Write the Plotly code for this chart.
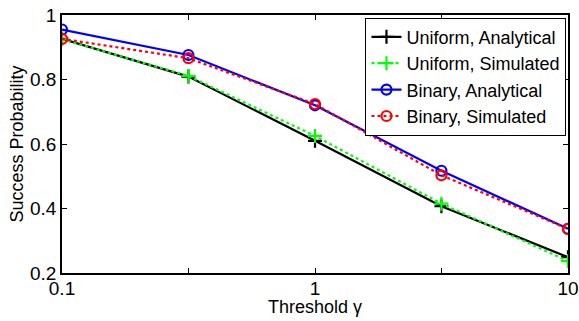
import plotly.graph_objects as go

x_vals = [0.1, 0.316, 1, 3.16, 10]
uniform_analytical = [0.926, 0.809, 0.61, 0.407, 0.249]
uniform_simulated = [0.925, 0.811, 0.625, 0.415, 0.237]
binary_analytical = [0.955, 0.876, 0.72, 0.517, 0.337]
binary_simulated = [0.926, 0.866, 0.724, 0.503, 0.337]

series = [
    ("Uniform, Analytical", uniform_analytical, "black", "solid", "cross-thin-open"),
    ("Uniform, Simulated", uniform_simulated, "#00ff00", "dot", "cross-thin-open"),
    ("Binary, Analytical", binary_analytical, "blue", "solid", "circle-open"),
    ("Binary, Simulated", binary_simulated, "red", "dot", "circle-open"),
]

fig = go.Figure()
for name, ys, color, dash, sym in series:
    fig.add_trace(go.Scatter(
        x=x_vals, y=ys, name=name, mode="lines+markers",
        line=dict(color=color, width=2.2, dash=dash),
        marker=dict(symbol=sym, size=10, color=color, line=dict(color=color, width=2.2)),
    ))

font_family = "Liberation Sans, Arial, sans-serif"
fig.update_layout(
    width=579, height=321,
    margin=dict(l=62, r=11, t=15, b=48, autoexpand=False),
    paper_bgcolor="white", plot_bgcolor="white",
    font=dict(family=font_family, size=19, color="black"),
    legend=dict(
        x=0.997, y=0.99, xanchor="right", yanchor="top",
        bordercolor="black", borderwidth=1, bgcolor="white",
        font=dict(size=18), itemwidth=30, tracegroupgap=0,
    ),
    showlegend=True,
    annotations=[
        dict(text="Threshold γ", xref="paper", yref="paper", x=0.5, y=-0.13,
             xanchor="center", yanchor="middle", showarrow=False, font=dict(size=18)),
        dict(text="Success Probability", xref="paper", yref="paper", x=-0.088, y=0.5,
             xanchor="center", yanchor="middle", textangle=-90, showarrow=False,
             font=dict(size=18)),
    ],
)
fig.update_xaxes(
    type="log", range=[-1, 1], automargin=False,
    tickvals=[0.1, 0.316, 1, 3.16, 10], ticktext=["0.1", "", "1", "", "10"],
    ticks="inside", ticklen=5, tickcolor="black", ticklabelstandoff=-3,
    showline=True, linecolor="black", linewidth=1.5, mirror="ticks",
    showgrid=False, zeroline=False,
)
fig.update_yaxes(
    range=[0.2, 1.0], automargin=False,
    tickvals=[0.2, 0.4, 0.6, 0.8, 1.0], ticktext=["0.2", "0.4", "0.6", "0.8", "1"],
    ticks="inside", ticklen=5, tickcolor="black",
    showline=True, linecolor="black", linewidth=1.5, mirror="ticks",
    showgrid=False, zeroline=False,
)
fig.write_html("out.html")
